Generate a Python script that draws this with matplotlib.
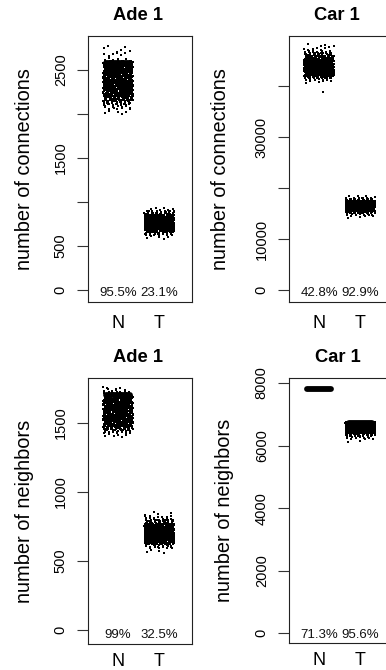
import numpy as np
import matplotlib
matplotlib.use("Agg")
import matplotlib.pyplot as plt

plt.rcParams['font.family'] = ['Liberation Sans', 'DejaVu Sans']

# ---------------- data ----------------
groups = ['N', 'T']
titles = ['Ade 1', 'Car 1', 'Ade 1', 'Car 1']
ylabels = ['number of connections', 'number of connections',
           'number of neighbors', 'number of neighbors']
percent_labels = [['95.5%', '23.1%'], ['42.8%', '92.9%'],
                  ['99%', '32.5%'], ['71.3%', '95.6%']]

# thick bar value per group (N, T)
ade1_conn_bar = [2578, 730]
car1_conn_bar = [43780, 17060]
ade1_nbr_bar = [1705, 682]
car1_nbr_bar = [7808, 6720]

# jittered point clouds as histograms (bin edges, counts)
ade1_conn_N_edges = [2000, 2050, 2100, 2150, 2200, 2250, 2300, 2350, 2400,
                     2450, 2500, 2550, 2600, 2650, 2700, 2750, 2800]
ade1_conn_N_counts = [5, 12, 30, 55, 75, 80, 85, 85, 80, 78, 75, 70,
                      7, 6, 4, 2]
ade1_conn_T_edges = [580, 620, 660, 700, 740, 780, 820, 860, 900, 940]
ade1_conn_T_counts = [5, 25, 75, 105, 105, 100, 75, 30, 8]

car1_conn_N_edges = [40500, 41000, 41500, 42000, 42500, 43000, 43500, 44000,
                     44500, 45000, 45500, 46000, 46500, 47000, 47500, 48000,
                     48500]
car1_conn_N_counts = [2, 9, 38, 70, 78, 80, 80, 80, 78, 70, 50, 25,
                      12, 6, 4, 2]
car1_conn_N_outliers = [38900]
car1_conn_T_edges = [14000, 14500, 15000, 15500, 16000, 16500, 17000, 17500,
                     18000, 18500]
car1_conn_T_counts = [2, 12, 45, 78, 80, 80, 80, 30, 5]

ade1_nbr_N_edges = [1400, 1425, 1450, 1475, 1500, 1525, 1550, 1575, 1600,
                    1625, 1650, 1675, 1700, 1725, 1750, 1775]
ade1_nbr_N_counts = [6, 18, 45, 60, 65, 68, 68, 68, 65, 62, 62, 60,
                     18, 8, 3]
ade1_nbr_T_edges = [560, 590, 620, 650, 680, 710, 740, 770, 800, 830, 860]
ade1_nbr_T_counts = [4, 18, 70, 120, 125, 105, 75, 38, 15, 4]

car1_nbr_N_edges = []
car1_nbr_N_counts = []
car1_nbr_T_edges = [6100, 6200, 6300, 6400, 6500, 6600, 6700, 6760]
car1_nbr_T_counts = [2, 10, 40, 130, 150, 150, 90]

ade1_conn_ticks = [0, 500, 1000, 1500, 2000, 2500]
ade1_conn_ticklabels = ['0', '500', '', '1500', '', '2500']
car1_conn_ticks = [0, 10000, 20000, 30000, 40000]
car1_conn_ticklabels = ['0', '10000', '', '30000', '']
ade1_nbr_ticks = [0, 500, 1000, 1500]
ade1_nbr_ticklabels = ['0', '500', '1000', '1500']
car1_nbr_ticks = [0, 2000, 4000, 6000, 8000]
car1_nbr_ticklabels = ['0', '2000', '4000', '6000', '8000']

panels = [
    dict(bar=ade1_conn_bar,
         clouds=[(ade1_conn_N_edges, ade1_conn_N_counts, []),
                 (ade1_conn_T_edges, ade1_conn_T_counts, [])],
         ticks=ade1_conn_ticks, ticklabels=ade1_conn_ticklabels),
    dict(bar=car1_conn_bar,
         clouds=[(car1_conn_N_edges, car1_conn_N_counts, car1_conn_N_outliers),
                 (car1_conn_T_edges, car1_conn_T_counts, [])],
         ticks=car1_conn_ticks, ticklabels=car1_conn_ticklabels),
    dict(bar=ade1_nbr_bar,
         clouds=[(ade1_nbr_N_edges, ade1_nbr_N_counts, []),
                 (ade1_nbr_T_edges, ade1_nbr_T_counts, [])],
         ticks=ade1_nbr_ticks, ticklabels=ade1_nbr_ticklabels),
    dict(bar=car1_nbr_bar,
         clouds=[(car1_nbr_N_edges, car1_nbr_N_counts, []),
                 (car1_nbr_T_edges, car1_nbr_T_counts, [])],
         ticks=car1_nbr_ticks, ticklabels=car1_nbr_ticklabels),
]

# ---------------- layout ----------------
W, H = 386, 670
rects_px = [(88, 36, 104, 266), (289, 36, 104, 266),
            (88, 378, 104, 266), (289, 378, 104, 265)]
ylims = [(-136, 2886), (-2353, 49800), (-102, 1827), (-310, 8160)]
xlim = (0.274, 2.79)
ylabel_x_px = [25, 221, 25, 225]
title_x_px = [138, 337, 138, 338]
xtick_pad = [9.0, 9.0, 6.5, 6.5]
JIT = 0.36
A1, A2 = 0.7548776662466927, 0.5698402909980532

fig = plt.figure(figsize=(W / 100, H / 100), dpi=100)
fig.patch.set_facecolor('white')

for i, p in enumerate(panels):
    l, t, w, h = rects_px[i]
    ax = fig.add_axes([l / W, 1 - (t + h) / H, w / W, h / H])
    ax.set_xlim(*xlim)
    ax.set_ylim(*ylims[i])

    for g, (edges, counts, outl) in enumerate(p['clouds']):
        c = g + 1
        xs, ys = [], []
        off = 0
        for b in range(len(counts)):
            n = counts[b]
            k = np.arange(n) + off
            fy = (0.5 + k * A1) % 1.0
            fx = (0.5 + k * A2) % 1.0
            ys.append(edges[b] + fy * (edges[b + 1] - edges[b]))
            xs.append(c + JIT * (2 * fx - 1))
            off += n
        for v in outl:
            ys.append(np.array([v]))
            xs.append(np.array([c + 0.1]))
        if xs:
            ax.scatter(np.concatenate(xs), np.concatenate(ys), s=0.55,
                       marker='s', color='black', linewidths=0, zorder=2)
        ax.plot([c - 0.28, c + 0.28], [p['bar'][g], p['bar'][g]],
                color='black', lw=4.2, solid_capstyle='round', zorder=3)
        ax.text(c, 0.032, percent_labels[i][g], transform=ax.get_xaxis_transform(),
                ha='center', va='center', fontsize=9.5, color='#111111')

    ax.set_xticks([1, 2])
    ax.set_xticklabels(groups, fontsize=13)
    ax.tick_params(axis='x', length=0, pad=xtick_pad[i])
    ax.set_yticks(p['ticks'])
    ax.set_yticklabels(p['ticklabels'], fontsize=10.5, rotation=90)
    for lab in ax.get_yticklabels():
        lab.set_va('center')
    ax.tick_params(axis='y', length=8, width=0.8, pad=6.5, color='#333333')
    for sp in ax.spines.values():
        sp.set_linewidth(0.8)
        sp.set_color('#222222')

    ax.text((ylabel_x_px[i] - l) / w, 0.5, ylabels[i], transform=ax.transAxes,
            rotation=90, ha='center', va='center', fontsize=14.4)
    ax.text((title_x_px[i] - l) / w, 1 + 21 / h, titles[i], transform=ax.transAxes,
            ha='center', va='center', fontsize=13.2, fontweight='bold')

fig.savefig('out.png', dpi=100, facecolor='white')
